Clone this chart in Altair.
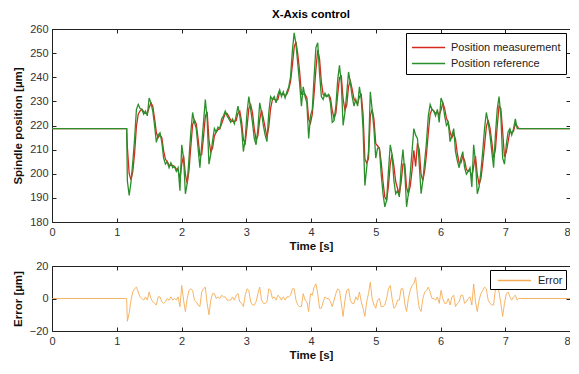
import altair as alt
import pandas as pd

# ---- data ----
t_lead = [0.0, 1.153]
t_tail = [7.21, 8.0]
rest_position = [218.7, 218.7]

time = [
    1.164, 1.192, 1.220, 1.248, 1.276, 1.304, 1.332, 1.360, 1.388, 1.416,
    1.444, 1.472, 1.500, 1.528, 1.556, 1.584, 1.612, 1.640, 1.668, 1.696,
    1.724, 1.752, 1.780, 1.808, 1.836, 1.864, 1.892, 1.920, 1.948, 1.976,
    2.004, 2.032, 2.060, 2.088, 2.116, 2.144, 2.172, 2.200, 2.228, 2.256,
    2.284, 2.312, 2.340, 2.368, 2.396, 2.424, 2.452, 2.480, 2.508, 2.536,
    2.564, 2.592, 2.620, 2.648, 2.676, 2.704, 2.732, 2.760, 2.788, 2.816,
    2.844, 2.872, 2.900, 2.928, 2.956, 2.984, 3.012, 3.040, 3.068, 3.096,
    3.124, 3.152, 3.180, 3.208, 3.236, 3.264, 3.292, 3.320, 3.348, 3.376,
    3.404, 3.432, 3.460, 3.488, 3.516, 3.544, 3.572, 3.600, 3.628, 3.656,
    3.684, 3.712, 3.740, 3.768, 3.796, 3.824, 3.852, 3.880, 3.908, 3.936,
    3.964, 3.992, 4.020, 4.048, 4.076, 4.104, 4.132, 4.160, 4.188, 4.216,
    4.244, 4.272, 4.300, 4.328, 4.356, 4.384, 4.412, 4.440, 4.468, 4.496,
    4.524, 4.552, 4.580, 4.608, 4.636, 4.664, 4.692, 4.720, 4.748, 4.776,
    4.804, 4.832, 4.860, 4.888, 4.916, 4.944, 4.972, 5.000, 5.028, 5.056,
    5.084, 5.112, 5.140, 5.168, 5.196, 5.224, 5.252, 5.280, 5.308, 5.336,
    5.364, 5.392, 5.420, 5.448, 5.476, 5.504, 5.532, 5.560, 5.588, 5.616,
    5.644, 5.672, 5.700, 5.728, 5.756, 5.784, 5.812, 5.840, 5.868, 5.896,
    5.924, 5.952, 5.980, 6.008, 6.036, 6.064, 6.092, 6.120, 6.148, 6.176,
    6.204, 6.232, 6.260, 6.288, 6.316, 6.344, 6.372, 6.400, 6.428, 6.456,
    6.484, 6.512, 6.540, 6.568, 6.596, 6.624, 6.652, 6.680, 6.708, 6.736,
    6.764, 6.792, 6.820, 6.848, 6.876, 6.904, 6.932, 6.960, 6.988, 7.016,
    7.044, 7.072, 7.100, 7.128, 7.156, 7.184,
]

position_reference = [
    197.0, 191.0, 196.5, 205.0, 214.6, 226.7, 228.7, 227.0, 226.7, 224.7,
    226.0, 224.0, 231.4, 229.4, 226.0, 220.0, 213.0, 216.0, 217.0, 213.0,
    206.5, 204.0, 205.0, 202.5, 204.5, 202.5, 203.0, 201.0, 202.5, 193.0,
    212.0, 206.5, 191.7, 196.0, 206.5, 217.3, 225.4, 221.3, 218.7, 210.6,
    202.5, 212.0, 221.3, 230.8, 222.7, 204.0, 208.0, 213.6, 218.7, 217.3,
    219.3, 218.7, 222.7, 224.0, 226.0, 224.0, 222.7, 221.3, 222.7, 220.7,
    224.0, 228.0, 224.0, 218.7, 209.2, 214.6, 225.4, 232.0, 226.7, 221.3,
    214.6, 212.0, 218.7, 229.4, 225.4, 220.0, 216.0, 213.3, 225.4, 232.0,
    230.8, 232.0, 229.4, 232.8, 234.8, 232.0, 234.0, 231.4, 234.0, 236.0,
    240.2, 250.9, 258.4, 253.7, 245.5, 237.5, 228.0, 236.0, 232.0, 229.4,
    214.6, 224.0, 226.7, 240.2, 252.3, 254.3, 241.6, 232.0, 230.8, 233.4,
    232.0, 232.8, 229.4, 221.3, 222.0, 228.0, 238.8, 244.9, 237.5, 220.0,
    225.4, 233.4, 242.2, 237.5, 232.0, 228.0, 230.8, 228.0, 236.0, 230.8,
    218.7, 195.1, 202.5, 209.2, 234.0, 226.7, 218.7, 206.5, 210.6, 210.6,
    199.8, 191.7, 186.3, 189.0, 201.0, 212.0, 208.0, 197.2, 191.7, 193.0,
    190.4, 202.5, 210.0, 201.0, 186.3, 191.7, 199.8, 209.2, 218.7, 216.0,
    214.6, 204.0, 191.7, 197.2, 205.3, 213.3, 224.0, 228.7, 226.7, 226.0,
    224.0, 226.7, 221.3, 231.4, 229.4, 224.0, 220.0, 221.3, 213.3, 216.0,
    218.7, 209.2, 205.3, 202.5, 206.5, 209.2, 202.5, 199.8, 201.0, 202.5,
    194.5, 212.0, 205.3, 191.7, 194.5, 201.0, 209.2, 218.7, 225.4, 221.3,
    216.0, 209.2, 202.5, 216.0, 226.7, 232.0, 224.0, 206.5, 204.0, 212.0,
    217.3, 218.7, 216.0, 218.7, 222.7, 218.7,
]

error = [
    -14, -9, -1, 4, 6, 7, 4, 1, 0, -1,
    1, -1, 4, 0, -2, -3, -4, 1, 1, -2,
    -3, -2, 0, -1, 1, -1, 0, -1, 1, -5,
    8, -1, -8, 0, 5, 6, 5, -1, -2, -4,
    -5, 4, 6, 7, -3, -10, -1, 3, 3, 0,
    1, 0, 2, 1, 1, -1, -1, -1, 1, -1,
    2, 3, -2, -3, -5, 2, 6, 5, -2, -4,
    -4, -2, 3, 7, -1, -3, -3, -2, 6, 5,
    0, 1, -1, 2, 1, -1, 1, -1, 1, 1,
    2, 6, 6, -1, -4, -5, -5, 3, -1, -2,
    -8, 3, 2, 7, 9, 3, -6, -6, -2, 1,
    0, 0, -2, -5, -1, 3, 6, 5, -3, -11,
    -1, 5, 6, -1, -3, -3, 1, -1, 4, -2,
    -6, -11, -2, 3, 10, 0, -4, -6, -1, 0,
    -5, -5, -4, 0, 6, 8, 0, -6, -5, -1,
    -1, 6, 6, -3, -8, 0, 5, 8, 9, 13,
    2, -6, -8, 0, 4, 5, 7, 4, 0, 0,
    -1, 1, -3, 5, 0, -3, -3, 0, -4, 1,
    2, -5, -3, -2, 2, 2, -3, -2, 0, 1,
    -4, 9, -2, -8, -1, 3, 5, 7, 6, -1,
    -3, -4, -4, 6, 7, 4, -3, -11, -3, 3,
    4, 1, -1, 1, 2, -1,
]

series_names = ["Position measurement", "Position reference"]
series_colors = ["#d42a1e", "#2b8f2b"]
error_color = "#f5ad55"

# ---- tables ----
full_time = t_lead + time + t_tail
ref_full = rest_position + position_reference + rest_position
err_full = [0, 0] + error + [0, 0]
meas_full = [r - e for r, e in zip(ref_full, err_full)]

df_top = pd.concat([
    pd.DataFrame({"time": full_time, "value": meas_full, "series": series_names[0], "k": 0}),
    pd.DataFrame({"time": full_time, "value": ref_full, "series": series_names[1], "k": 1}),
])
df_err = pd.DataFrame({"time": full_time, "error": err_full, "series": "Error"})

FONT = "Liberation Sans"
W = 518
xscale = alt.Scale(domain=[0, 8], nice=False, zero=False)
xticks = list(range(0, 9))


def x_axis_bottom(title):
    return alt.Axis(title=title, values=xticks, format="d", orient="bottom",
                    offset=-4, tickSize=4, domain=False, grid=False,
                    labelAlign={"expr": "datum.value == 8 ? 'right' : 'center'"},
                    labelPadding=4, titlePadding=3, titleFontWeight="bold",
                    titleFontSize=11.5, labelFontSize=11)


x_axis_top = alt.Axis(title=None, values=xticks, labels=False, orient="top",
                      offset=-4, tickSize=4, domain=False, grid=False)

# ---- top panel ----
yscale_top = alt.Scale(domain=[180, 260], nice=False, zero=False)
yticks_top = list(range(180, 261, 10))

lines = alt.Chart(df_top).mark_line(strokeWidth=1.3).encode(
    x=alt.X("time:Q", scale=xscale, axis=x_axis_bottom("Time [s]")),
    y=alt.Y("value:Q", scale=yscale_top,
            axis=alt.Axis(title="Spindle position [µm]", values=yticks_top, orient="left",
                          offset=-4, tickSize=4, domain=False, grid=False,
                          labelPadding=4, titlePadding=6, titleFontWeight="bold",
                          titleFontSize=11.5, labelFontSize=11)),
    color=alt.Color("series:N", scale=alt.Scale(domain=series_names, range=series_colors),
                    legend=alt.Legend(title=None, orient="top-right", offset=4,
                                      fillColor="white", strokeColor="black",
                                      padding=5, labelFontSize=11,
                                      symbolType="M-1,0H2.9", symbolSize=289,
                                      symbolStrokeWidth=1.5, rowPadding=1,
                                      labelOffset=21)),
    order=alt.Order("k:Q"),
)
frame_top = alt.Chart(df_top).mark_line(opacity=0).encode(
    x=alt.X("time:Q", scale=xscale, axis=x_axis_top),
    y=alt.Y("value:Q", scale=yscale_top,
            axis=alt.Axis(title=None, values=yticks_top, labels=False, orient="right",
                          offset=-4, tickSize=4, domain=False, grid=False)),
    detail="series:N",
)
top = alt.layer(lines, frame_top).resolve_axis(x="independent", y="independent").properties(
    width=W, height=193,
    title=alt.TitleParams("X-Axis control", fontSize=11.5, fontWeight="bold", font=FONT,
                          anchor="middle", frame="group", offset=3),
)

# ---- bottom panel ----
yscale_bot = alt.Scale(domain=[-20, 20], nice=False, zero=False)
yticks_bot = [-20, 0, 20]

err_line = alt.Chart(df_err).mark_line(strokeWidth=0.9).encode(
    x=alt.X("time:Q", scale=xscale, axis=x_axis_bottom("Time [s]")),
    y=alt.Y("error:Q", scale=yscale_bot,
            axis=alt.Axis(title="Error [µm]", values=yticks_bot, orient="left",
                          offset=-4, tickSize=4, domain=False, grid=False,
                          labelPadding=4, titlePadding=6, titleFontWeight="bold",
                          titleFontSize=11.5, labelFontSize=11)),
    color=alt.Color("series:N", scale=alt.Scale(domain=["Error"], range=[error_color]),
                    legend=alt.Legend(title=None, orient="top-right", offset=4,
                                      fillColor="white", strokeColor="black",
                                      padding=3, labelFontSize=11,
                                      symbolType="M-0.4,0H4.7", symbolSize=169,
                                      symbolStrokeWidth=1.5, labelOffset=30)),
)
frame_bot = alt.Chart(df_err).mark_line(opacity=0).encode(
    x=alt.X("time:Q", scale=xscale, axis=x_axis_top),
    y=alt.Y("error:Q", scale=yscale_bot,
            axis=alt.Axis(title=None, values=yticks_bot, labels=False, orient="right",
                          offset=-4, tickSize=4, domain=False, grid=False)),
)
bottom = alt.layer(err_line, frame_bot).resolve_axis(x="independent", y="independent").properties(
    width=W, height=65,
)

chart = alt.vconcat(top, bottom, spacing=7).resolve_scale(color="independent").properties(
    padding={"left": 3, "top": 0, "right": -4, "bottom": 0},
).configure(
    font=FONT,
).configure_view(
    stroke="#222", strokeWidth=1,
).configure_axis(
    labelColor="#333", titleColor="#111", tickColor="#222", labelFont=FONT, titleFont=FONT,
).configure_legend(
    labelFont=FONT, labelColor="#222",
)

chart.save("out.html", embed_options={"renderer": "svg", "actions": False})
